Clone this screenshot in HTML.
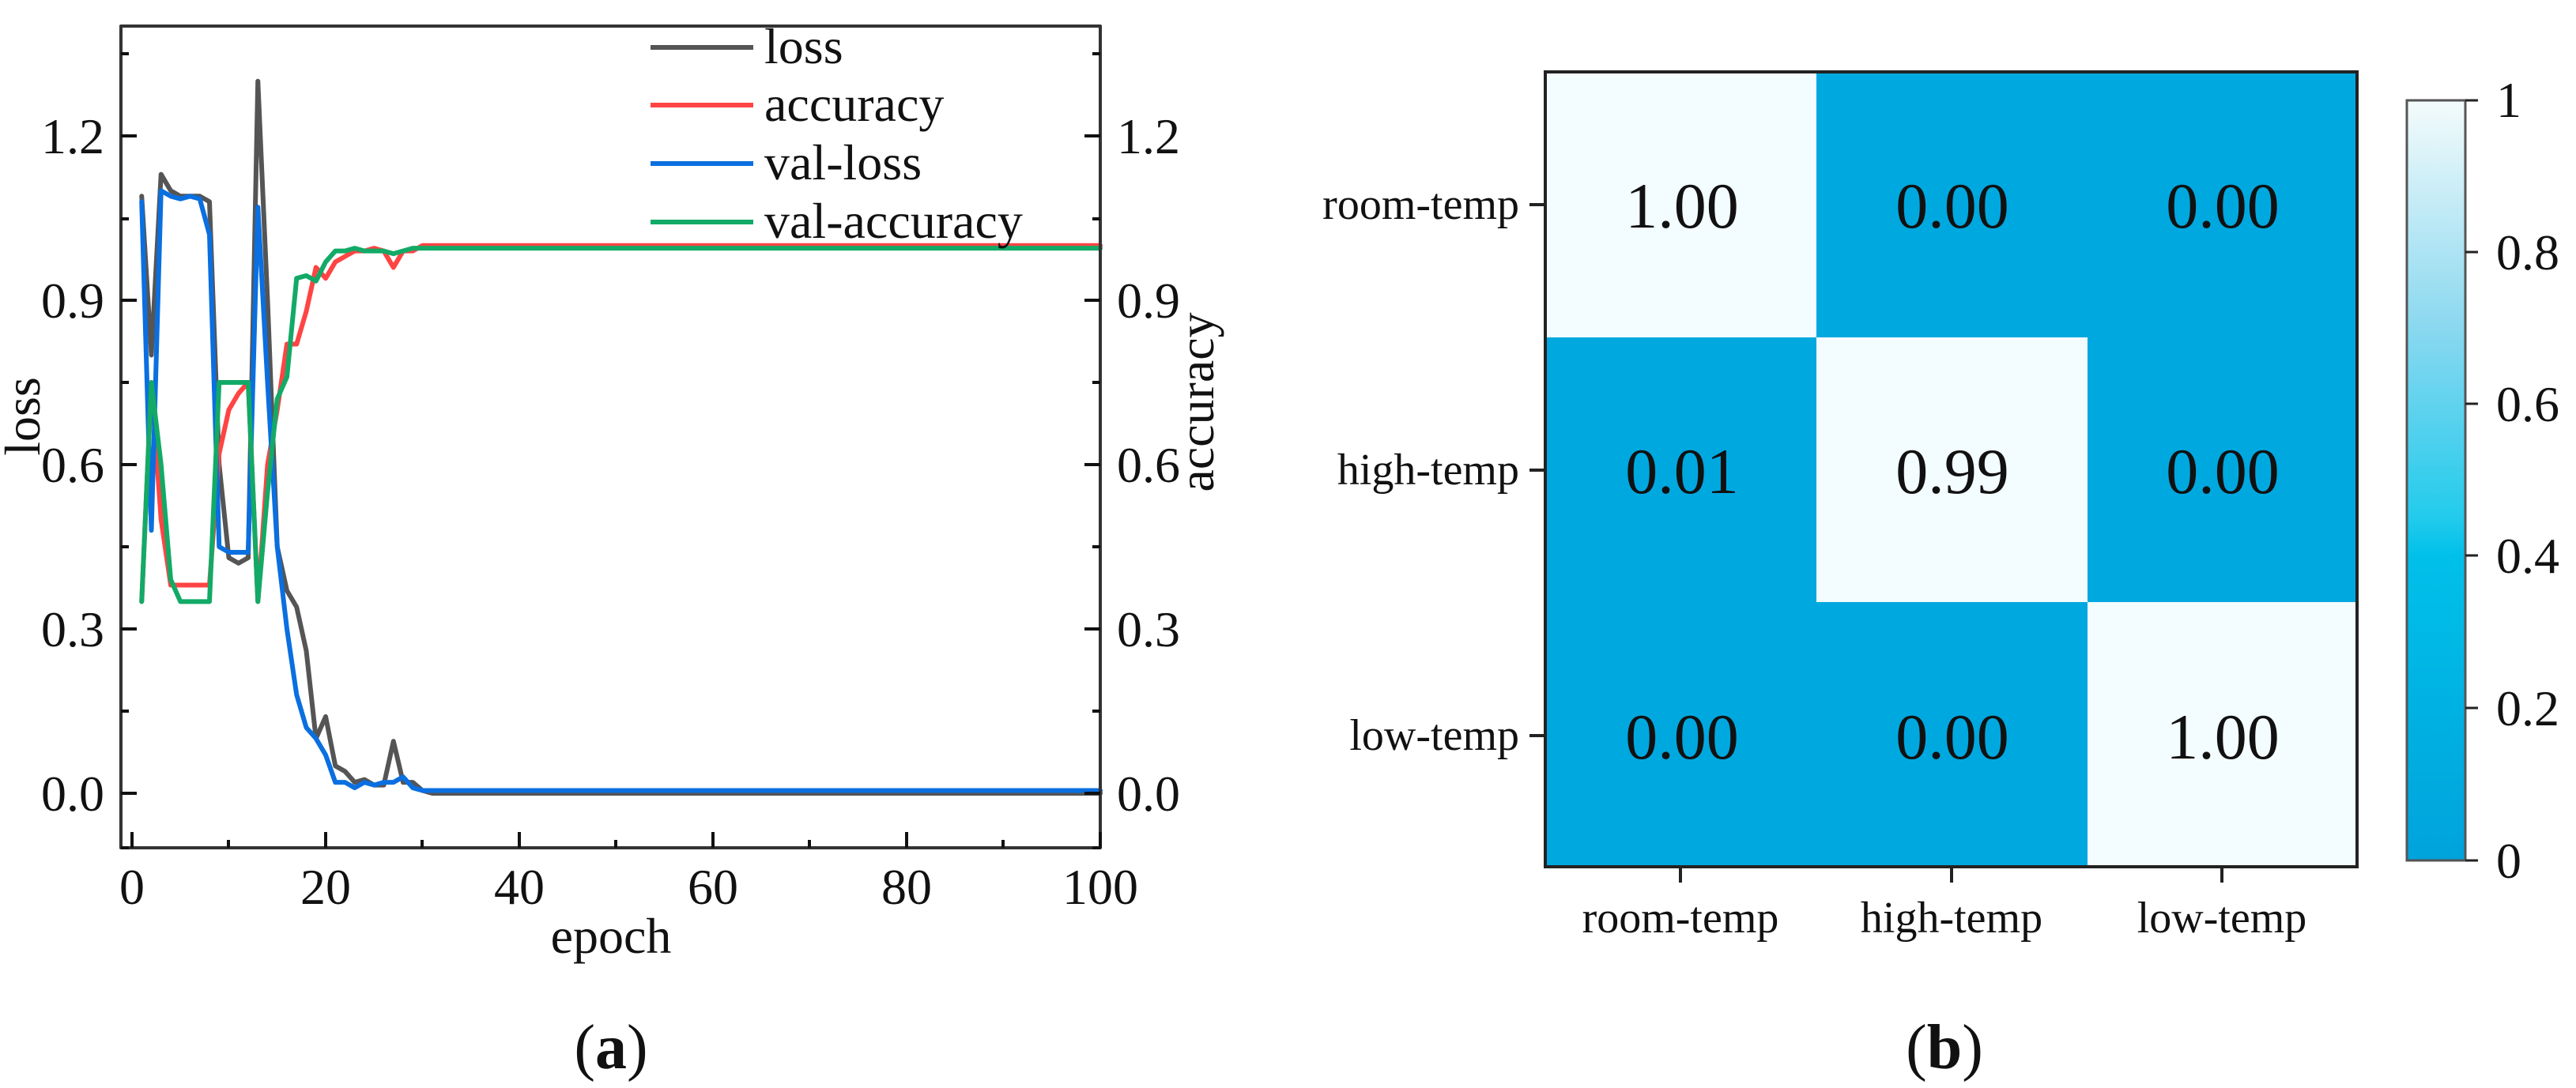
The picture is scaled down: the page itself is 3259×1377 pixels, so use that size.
<!DOCTYPE html>
<html><head><meta charset="utf-8"><style>
html,body{margin:0;padding:0;background:#fff;font-family:"Liberation Serif",serif;}
svg{display:block;}
svg text{font-family:"Liberation Serif","Times New Roman",serif;fill:#111;}
</style></head><body>
<svg width="3259" height="1377" viewBox="0 0 3259 1377" xmlns="http://www.w3.org/2000/svg" font-family="Liberation Serif, Times New Roman, serif">
<g fill="none" stroke-linejoin="round" stroke-linecap="round">
<g transform="translate(167,1004) scale(12.25,-693.3)">
<polyline vector-effect="non-scaling-stroke" stroke="#555" stroke-width="6" points="1,1.09 2,0.8 3,1.13 4,1.1 5,1.09 6,1.09 7,1.09 8,1.08 9,0.6 10,0.43 11,0.42 12,0.43 13,1.30 14,0.9 15,0.45 16,0.37 17,0.34 18,0.26 19,0.1 20,0.14 21,0.05 22,0.04 23,0.02 24,0.025 25,0.015 26,0.015 27,0.095 28,0.02 29,0.02 30,0.005 31,0 100,0"/>
<polyline vector-effect="non-scaling-stroke" stroke="#ff4444" stroke-width="6" points="1,0.35 2,0.75 3,0.5 4,0.38 5,0.38 6,0.38 7,0.38 8,0.38 9,0.62 10,0.7 11,0.73 12,0.75 13,0.35 14,0.6 15,0.7 16,0.82 17,0.82 18,0.88 19,0.96 20,0.94 21,0.97 22,0.98 23,0.99 24,0.99 25,0.995 26,0.99 27,0.96 28,0.99 29,0.99 30,1.0 100,1.0"/>
<polyline vector-effect="non-scaling-stroke" stroke="#0a6fe0" stroke-width="6" points="1,1.08 2,0.48 3,1.10 4,1.09 5,1.085 6,1.09 7,1.085 8,1.02 9,0.45 10,0.44 11,0.44 12,0.44 13,1.07 14,0.75 15,0.45 16,0.3 17,0.18 18,0.12 19,0.1 20,0.07 21,0.02 22,0.02 23,0.01 24,0.02 25,0.015 26,0.02 27,0.02 28,0.03 29,0.01 30,0.005 100,0.005"/>
<polyline vector-effect="non-scaling-stroke" stroke="#12aa66" stroke-width="6" points="1,0.35 2,0.75 3,0.6 4,0.39 5,0.35 6,0.35 7,0.35 8,0.35 9,0.75 10,0.75 11,0.75 12,0.75 13,0.35 14,0.55 15,0.72 16,0.76 17,0.94 18,0.945 19,0.935 20,0.97 21,0.99 22,0.99 23,0.995 24,0.99 25,0.99 26,0.99 27,0.985 28,0.99 29,0.995 30,0.995 100,0.995"/>
</g>
<rect x="153" y="33" width="1239" height="1040" stroke="#333" stroke-width="4"/>
</g>
<g stroke="#111" stroke-width="4">
<path d="M153,1004h20M153,796h20M153,588h20M153,380h20M153,172h20"/>
<path d="M153,1073h10M153,900h10M153,692h10M153,484h10M153,277h10M153,68h10"/>
<path d="M1392,1004h-20M1392,796h-20M1392,588h-20M1392,380h-20M1392,172h-20"/>
<path d="M1392,1073h-10M1392,900h-10M1392,692h-10M1392,484h-10M1392,277h-10M1392,68h-10"/>
<path d="M167,1073v-20M412,1073v-20M657,1073v-20M902,1073v-20M1147,1073v-20M1392,1073v-20"/>
<path d="M289,1073v-10M534,1073v-10M779,1073v-10M1024,1073v-10M1269,1073v-10"/>
</g>
<g font-size="64" text-anchor="end" font-family="Liberation Serif, serif">
<text x="132" y="1026">0.0</text><text x="132" y="818">0.3</text><text x="132" y="610">0.6</text><text x="132" y="402">0.9</text><text x="132" y="194">1.2</text>
</g>
<g font-size="64" font-family="Liberation Serif, serif">
<text x="1413" y="1026">0.0</text><text x="1413" y="818">0.3</text><text x="1413" y="610">0.6</text><text x="1413" y="402">0.9</text><text x="1413" y="194">1.2</text>
</g>
<g font-size="64" text-anchor="middle" font-family="Liberation Serif, serif">
<text x="167" y="1144">0</text><text x="412" y="1144">20</text><text x="657" y="1144">40</text><text x="902" y="1144">60</text><text x="1147" y="1144">80</text><text x="1392" y="1144">100</text>
<text x="773" y="1206">epoch</text>
<text transform="translate(50,527) rotate(-90)">loss</text>
<text transform="translate(1535,509) rotate(-90)">accuracy</text>
</g>
<g stroke-width="6">
<line x1="823" y1="60" x2="953" y2="60" stroke="#555"/>
<line x1="823" y1="133" x2="953" y2="133" stroke="#ff4444"/>
<line x1="823" y1="207" x2="953" y2="207" stroke="#0a6fe0"/>
<line x1="823" y1="281" x2="953" y2="281" stroke="#12aa66"/>
</g>
<g font-size="64" font-family="Liberation Serif, serif">
<text x="967" y="80">loss</text><text x="967" y="153">accuracy</text><text x="967" y="227">val-loss</text><text x="967" y="301">val-accuracy</text>
</g>
<text x="773" y="1352" font-size="80" text-anchor="middle" font-family="Liberation Serif, serif">(<tspan font-weight="bold">a</tspan>)</text>

<rect x="1955" y="91" width="343" height="336" fill="#f3fcfe"/>
<rect x="2298" y="91" width="343" height="336" fill="#00a8e0"/>
<rect x="2641" y="91" width="341" height="336" fill="#00a8e0"/>
<rect x="1955" y="427" width="343" height="335" fill="#00a8e0"/>
<rect x="2298" y="427" width="343" height="335" fill="#f3fcfe"/>
<rect x="2641" y="427" width="341" height="335" fill="#00a8e0"/>
<rect x="1955" y="762" width="343" height="335" fill="#00a8e0"/>
<rect x="2298" y="762" width="343" height="335" fill="#00a8e0"/>
<rect x="2641" y="762" width="341" height="335" fill="#f3fcfe"/>
<rect x="1955" y="91" width="1027" height="1006" fill="none" stroke="#222" stroke-width="4"/>
<g stroke="#222" stroke-width="4">
<path d="M1935,259h20M1935,595h20M1935,931h20"/>
<path d="M2126,1097v20M2469,1097v20M2811,1097v20"/>
</g>
<g font-size="82" text-anchor="middle" font-family="Liberation Serif, serif">
<text x="2128" y="288">1.00</text><text x="2470" y="288">0.00</text><text x="2812" y="288">0.00</text>
<text x="2128" y="624">0.01</text><text x="2470" y="624">0.99</text><text x="2812" y="624">0.00</text>
<text x="2128" y="960">0.00</text><text x="2470" y="960">0.00</text><text x="2812" y="960">1.00</text>
</g>
<g font-size="56" text-anchor="end" font-family="Liberation Serif, serif">
<text x="1922" y="277">room-temp</text><text x="1922" y="613">high-temp</text><text x="1922" y="949">low-temp</text>
</g>
<g font-size="56" text-anchor="middle" font-family="Liberation Serif, serif">
<text x="2126" y="1180">room-temp</text><text x="2469" y="1180">high-temp</text><text x="2811" y="1180">low-temp</text>
</g>
<defs><linearGradient id="cb" x1="0" y1="1" x2="0" y2="0">
<stop offset="0" stop-color="#00a3dc"/><stop offset="0.4" stop-color="#00c0ea"/><stop offset="0.45" stop-color="#22cbec"/><stop offset="0.7" stop-color="#8ad8f0"/><stop offset="1" stop-color="#f4fbfb"/>
</linearGradient></defs>
<rect x="3045" y="127" width="74" height="962" fill="url(#cb)" stroke="#555" stroke-width="3"/>
<g stroke="#222" stroke-width="3">
<path d="M3119,127h16M3119,319h16M3119,511h16M3119,703h16M3119,896h16M3119,1089h16"/>
</g>
<g font-size="64" font-family="Liberation Serif, serif">
<text x="3158" y="148">1</text><text x="3158" y="341">0.8</text><text x="3158" y="533">0.6</text><text x="3158" y="725">0.4</text><text x="3158" y="918">0.2</text><text x="3158" y="1111">0</text>
</g>
<text x="2460" y="1352" font-size="80" text-anchor="middle" font-family="Liberation Serif, serif">(<tspan font-weight="bold">b</tspan>)</text>
</svg>
</body></html>
